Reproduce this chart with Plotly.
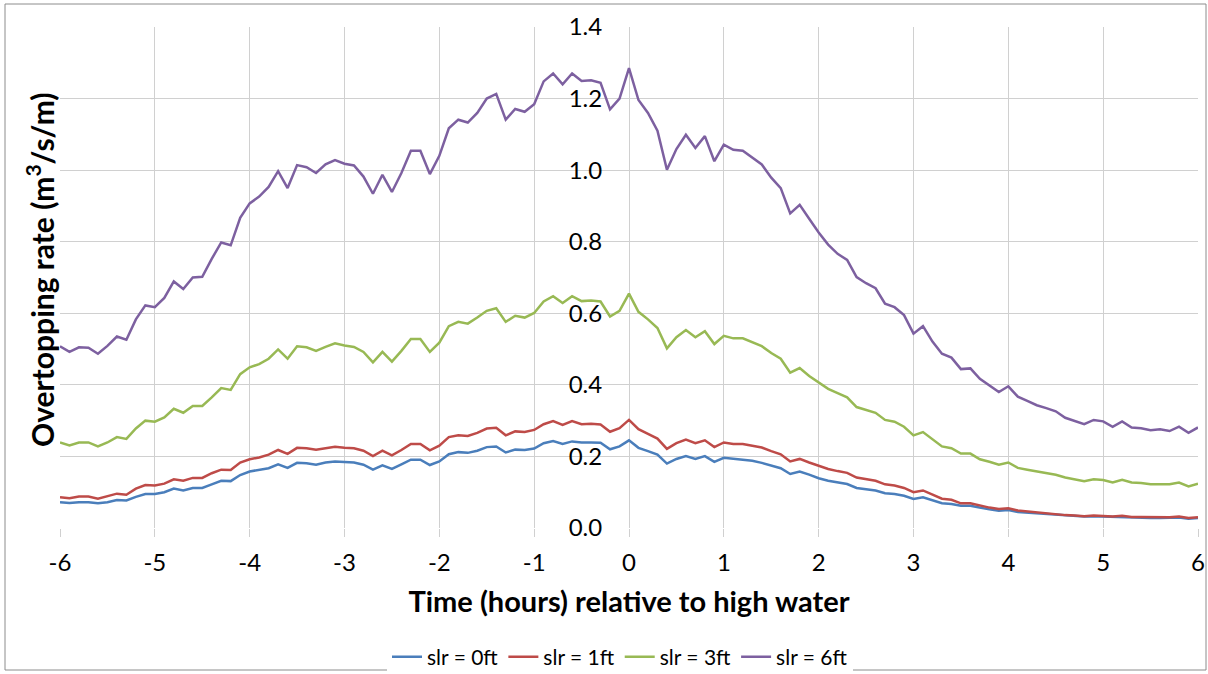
import numpy as np
import plotly.graph_objects as go

# Time relative to high water, hours (0.1 h steps)
hours = np.round(np.arange(-6.0, 6.0001, 0.1), 1)

slr_0ft = [
    0.072, 0.070, 0.072, 0.072, 0.069, 0.072, 0.078, 0.077, 0.087, 0.095,
    0.095, 0.100, 0.110, 0.105, 0.112, 0.112, 0.122, 0.132, 0.131, 0.148,
    0.158, 0.162, 0.167, 0.178, 0.168, 0.182, 0.181, 0.177, 0.183, 0.186,
    0.184, 0.183, 0.177, 0.163, 0.175, 0.165, 0.178, 0.191, 0.191, 0.176,
    0.186, 0.206, 0.212, 0.210, 0.216, 0.226, 0.228, 0.211, 0.219, 0.218,
    0.222, 0.237, 0.243, 0.235, 0.242, 0.239, 0.239, 0.238, 0.220, 0.228,
    0.245, 0.224, 0.215, 0.205, 0.180, 0.193, 0.201, 0.193, 0.201, 0.185,
    0.196, 0.193, 0.191, 0.188, 0.182, 0.174, 0.167, 0.151, 0.158, 0.149,
    0.139, 0.132, 0.127, 0.123, 0.112, 0.109, 0.105, 0.097, 0.095, 0.090,
    0.081, 0.086, 0.077, 0.069, 0.067, 0.062, 0.062, 0.056, 0.052, 0.048,
    0.050, 0.045, 0.043, 0.041, 0.039, 0.037, 0.035, 0.034, 0.032, 0.033,
    0.032, 0.030, 0.031, 0.029, 0.029, 0.028, 0.028, 0.028, 0.029, 0.026,
    0.028,
]

slr_1ft = [
    0.086, 0.083, 0.088, 0.088, 0.082, 0.088, 0.096, 0.093, 0.110, 0.120,
    0.119, 0.124, 0.136, 0.132, 0.140, 0.140, 0.153, 0.163, 0.162, 0.183,
    0.192, 0.197, 0.205, 0.218, 0.207, 0.224, 0.223, 0.219, 0.224, 0.227,
    0.224, 0.223, 0.216, 0.201, 0.216, 0.203, 0.218, 0.235, 0.235, 0.217,
    0.230, 0.254, 0.259, 0.257, 0.266, 0.278, 0.280, 0.259, 0.270, 0.268,
    0.274, 0.290, 0.299, 0.288, 0.299, 0.290, 0.291, 0.289, 0.269, 0.279,
    0.302, 0.276, 0.263, 0.250, 0.221, 0.237, 0.247, 0.237, 0.245, 0.226,
    0.239, 0.235, 0.235, 0.231, 0.225, 0.215, 0.206, 0.186, 0.193, 0.183,
    0.173, 0.165, 0.159, 0.154, 0.141, 0.136, 0.132, 0.122, 0.119, 0.112,
    0.100, 0.105, 0.093, 0.082, 0.079, 0.069, 0.069, 0.062, 0.057, 0.053,
    0.055, 0.049, 0.046, 0.043, 0.041, 0.039, 0.036, 0.035, 0.033, 0.035,
    0.034, 0.032, 0.034, 0.031, 0.031, 0.030, 0.030, 0.030, 0.032, 0.028,
    0.030,
]

slr_3ft = [
    0.239, 0.231, 0.239, 0.239, 0.228, 0.239, 0.254, 0.249, 0.278, 0.300,
    0.297, 0.309, 0.333, 0.322, 0.341, 0.341, 0.365, 0.391, 0.386, 0.430,
    0.449, 0.458, 0.473, 0.499, 0.473, 0.508, 0.505, 0.495, 0.506, 0.516,
    0.510, 0.506, 0.492, 0.463, 0.492, 0.465, 0.495, 0.528, 0.528, 0.492,
    0.518, 0.564, 0.576, 0.571, 0.588, 0.607, 0.614, 0.576, 0.593, 0.588,
    0.601, 0.633, 0.648, 0.629, 0.648, 0.634, 0.636, 0.633, 0.591, 0.607,
    0.655, 0.604, 0.583, 0.559, 0.502, 0.533, 0.553, 0.533, 0.550, 0.514,
    0.537, 0.530, 0.530, 0.520, 0.508, 0.489, 0.473, 0.434, 0.447, 0.425,
    0.406, 0.389, 0.377, 0.365, 0.338, 0.331, 0.322, 0.302, 0.297, 0.283,
    0.259, 0.268, 0.247, 0.228, 0.223, 0.208, 0.208, 0.192, 0.185, 0.177,
    0.183, 0.168, 0.163, 0.159, 0.154, 0.149, 0.141, 0.136, 0.131, 0.136,
    0.134, 0.127, 0.135, 0.127, 0.126, 0.122, 0.123, 0.122, 0.127, 0.116,
    0.124,
]

slr_6ft = [
    0.508, 0.492, 0.505, 0.504, 0.487, 0.509, 0.535, 0.526, 0.583, 0.622,
    0.617, 0.643, 0.689, 0.668, 0.700, 0.702, 0.752, 0.798, 0.790, 0.867,
    0.907, 0.926, 0.953, 0.997, 0.950, 1.014, 1.008, 0.992, 1.016, 1.028,
    1.018, 1.013, 0.982, 0.934, 0.987, 0.939, 0.992, 1.054, 1.054, 0.989,
    1.040, 1.117, 1.141, 1.133, 1.160, 1.200, 1.213, 1.141, 1.171, 1.163,
    1.184, 1.248, 1.270, 1.240, 1.270, 1.249, 1.251, 1.244, 1.170, 1.200,
    1.285, 1.196, 1.160, 1.110, 1.001, 1.059, 1.099, 1.062, 1.095, 1.025,
    1.071, 1.057, 1.054, 1.035, 1.016, 0.979, 0.950, 0.879, 0.903, 0.864,
    0.826, 0.792, 0.766, 0.749, 0.701, 0.684, 0.670, 0.627, 0.617, 0.595,
    0.543, 0.564, 0.521, 0.487, 0.476, 0.444, 0.446, 0.417, 0.399, 0.380,
    0.396, 0.367, 0.355, 0.343, 0.335, 0.326, 0.308, 0.300, 0.290, 0.302,
    0.298, 0.283, 0.298, 0.281, 0.279, 0.273, 0.276, 0.271, 0.283, 0.266,
    0.281,
]

series_names = ["slr = 0ft", "slr = 1ft", "slr = 3ft", "slr = 6ft"]
series_values = [slr_0ft, slr_1ft, slr_3ft, slr_6ft]
series_colors = ["#4A7EBB", "#BE4B48", "#98B954", "#7D60A0"]

x_ticks = list(range(-6, 7))
y_ticks = [0.0, 0.2, 0.4, 0.6, 0.8, 1.0, 1.2, 1.4]

FONT = "Lato, 'Open Sans', sans-serif"
GRID = "#D0D0D0"

W, H = 1208, 674
ML, MR, MT, MB = 60, 10, 27, 146
pw, ph = W - ML - MR, H - MT - MB


def px_to_paper(px, py):
    return (px - ML) / pw, (H - MB - py) / ph


fig = go.Figure()
for name, vals, color in zip(series_names, series_values, series_colors):
    fig.add_trace(go.Scatter(
        x=hours, y=vals, name=name, mode="lines",
        line=dict(color=color, width=2.5),
    ))

# outer chart frame
x0, y0 = px_to_paper(5, 670)
x1, y1 = px_to_paper(1206, 4)
fig.add_shape(type="rect", xref="paper", yref="paper",
              x0=x0, y0=y0, x1=x1, y1=y1,
              line=dict(color="#8C8C8C", width=1), fillcolor="rgba(0,0,0,0)",
              layer="below")

tx, ty = px_to_paper(40, 270)
fig.add_annotation(
    text="<b>Overtopping rate (m<sup>3</sup>/s/m)</b>",
    xref="paper", yref="paper", x=tx, y=ty, textangle=-90,
    showarrow=False, font=dict(family=FONT, size=30, color="#000000"),
    xanchor="center", yanchor="middle",
)

lx, ly = px_to_paper(620, 657)
fig.update_layout(
    width=W, height=H,
    margin=dict(l=ML, r=MR, t=MT, b=MB, autoexpand=False),
    paper_bgcolor="white", plot_bgcolor="white",
    font=dict(family=FONT, color="#000000"),
    showlegend=True,
    legend=dict(
        orientation="h", x=lx, y=ly, xanchor="center", yanchor="middle",
        font=dict(family=FONT, size=21, color="#000000"),
        itemwidth=30,
    ),
    xaxis=dict(
        range=[-6, 6], tickvals=x_ticks, ticktext=[str(v) for v in x_ticks],
        showgrid=True, gridcolor=GRID, gridwidth=1,
        zeroline=False, showline=False, automargin=False,
        ticks="outside", ticklen=8, tickcolor=GRID, tickwidth=1,
        ticklabelstandoff=5,
        tickfont=dict(family=FONT, size=24, color="#000000"),
        title=dict(text="<b>Time (hours) relative to high water</b>",
                   font=dict(family=FONT, size=29, color="#000000"),
                   standoff=16),
    ),
    yaxis=dict(
        range=[0, 1.4], tickvals=y_ticks, ticktext=[f"{v:.1f}" for v in y_ticks],
        anchor="free", position=0.5, side="left", automargin=False,
        showgrid=True, gridcolor=GRID, gridwidth=1,
        zeroline=False, showline=False,
        ticks="outside", ticklen=22, tickcolor="rgba(0,0,0,0)",
        tickfont=dict(family=FONT, size=24, color="#000000"),
    ),
)

fig.write_html("out.html")
